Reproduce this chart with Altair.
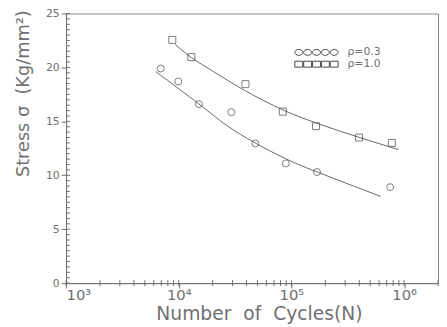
import altair as alt
import pandas as pd

# ---- data ----
series_names = ["ρ=0.3", "ρ=1.0"]

n_rho03 = [6930, 9900, 15100, 29300, 47800, 89100, 168700, 752000]
s_rho03 = [19.9, 18.7, 16.6, 15.85, 12.95, 11.1, 10.3, 8.9]

n_rho10 = [8770, 12940, 39100, 83900, 165300, 398000, 778000]
s_rho10 = [22.55, 20.95, 18.45, 15.9, 14.55, 13.5, 13.0]

fit_n_03 = [6240, 15100, 26500, 47600, 88700, 168700, 623000]
fit_s_03 = [19.62, 16.61, 14.64, 13.0, 11.54, 10.31, 8.03]

fit_n_10 = [9310, 12940, 20280, 38900, 82600, 163700, 395000, 895000]
fit_s_10 = [22.13, 20.92, 19.62, 17.84, 16.10, 14.87, 13.53, 12.38]

x_major = [1000, 10000, 100000, 1000000]
x_major_labels = ["10³", "10⁴", "10⁵", "10⁶"]
x_minor = [m * 10 ** e for e in range(3, 7) for m in range(1, 10) if m * 10 ** e <= 2000000]
y_major = [0, 5, 10, 15, 20, 25]
y_minor = [i * 0.5 for i in range(51)]

x_title = "Number\u00a0\u00a0of\u00a0\u00a0Cycles(N)"
y_title = "Stress\u00a0σ\u00a0\u00a0(Kg/mm²)"

# ---- tables ----
points = pd.DataFrame({
    "N": n_rho03 + n_rho10,
    "S": s_rho03 + s_rho10,
    "series": [series_names[0]] * len(n_rho03) + [series_names[1]] * len(n_rho10),
})
fits = pd.DataFrame({
    "N": fit_n_03 + fit_n_10,
    "S": fit_s_03 + fit_s_10,
    "series": [series_names[0]] * len(fit_n_03) + [series_names[1]] * len(fit_n_10),
})
legend_df = pd.DataFrame({"series": series_names})
xminor_df = pd.DataFrame({"N": x_minor})
yminor_df = pd.DataFrame({"S": y_minor})

label_expr = " : ".join(
    f"datum.value == {v} ? '{lab}'" for v, lab in zip(x_major, x_major_labels)
) + " : ''"


def five(kind):
    parts = []
    for cx in [-18, -9, 0, 9, 18]:
        if kind == "circle":
            parts.append(f"M{cx-4},0A4,3 0 1,0 {cx+4},0A4,3 0 1,0 {cx-4},0Z")
        else:
            parts.append(f"M{cx-4},-3H{cx+4}V3H{cx-4}Z")
    return "".join(parts)


xscale = alt.Scale(type="log", domain=[1000, 2000000])
yscale = alt.Scale(domain=[0, 25], nice=False, zero=False)
GRAY = "#707070"
FONT = "DejaVu Sans"

x_axis = alt.Axis(
    orient="bottom", values=x_major, labelExpr=label_expr, grid=False,
    tickSize=5, labelPadding=0, labelFontSize=15, labelFont=FONT, labelColor=GRAY,
    domainColor=GRAY, tickColor=GRAY,
    title=x_title, titleFont=FONT, titleFontSize=19, titleColor=GRAY,
    titleFontWeight="normal", titleX=196, titleY=37, titleBaseline="alphabetic",
    titleAlign="center")
y_axis = alt.Axis(
    orient="left", values=y_major, grid=False, tickSize=5, labelPadding=2,
    labelFontSize=11, labelFont=FONT, labelColor=GRAY, domainColor=GRAY, tickColor=GRAY,
    title=y_title, titleFont=FONT, titleFontSize=18, titleColor=GRAY,
    titleFontWeight="normal", titleX=-43, titleY=81, titleAngle=270,
    titleAlign="center", titleBaseline="middle")

X = alt.X("N:Q", scale=xscale, axis=x_axis)
Y = alt.Y("S:Q", scale=yscale, axis=y_axis)

xminor = alt.Chart(xminor_df).mark_rule(color=GRAY, strokeWidth=1).encode(
    x=X, y=alt.value(271), y2=alt.value(277),
)
yminor = alt.Chart(yminor_df).mark_rule(color=GRAY, strokeWidth=1).encode(
    y=Y, x=alt.value(0), x2=alt.value(4),
)

lines = alt.Chart(fits).mark_line(color="#666666", strokeWidth=1, interpolate="natural").encode(
    x=X, y=Y, detail="series:N",
)

pts = alt.Chart(points).mark_point(filled=False, size=50, strokeWidth=1, color="#444444").encode(
    x=X, y=Y,
    shape=alt.Shape("series:N", scale=alt.Scale(domain=series_names, range=["circle", "square"]),
                    legend=None),
)

leg = alt.Chart(legend_df).mark_point(filled=False, size=4, opacity=0, color="#444444").encode(
    shape=alt.Shape("series:N",
                    scale=alt.Scale(domain=series_names, range=[five("circle"), five("square")]),
                    legend=alt.Legend(
                        title=None, orient="none", legendX=249, legendY=34,
                        symbolSize=4, symbolOpacity=1, symbolStrokeColor="#444444",
                        symbolFillColor="transparent", symbolStrokeWidth=1,
                        labelFont=FONT, labelFontSize=11, labelColor=GRAY,
                        labelOffset=26, rowPadding=0, padding=0)),
)

chart = alt.layer(xminor, yminor, lines, pts, leg).resolve_scale(shape="independent").properties(
    width=378, height=274,
    autosize=alt.AutoSizeParams(type="none"),
    padding={"left": 59, "top": 3, "right": 1, "bottom": 42},
    background="white",
).configure_view(stroke="#888888", strokeWidth=1)

chart.save("out.html", embed_options={"renderer": "svg", "actions": False})
